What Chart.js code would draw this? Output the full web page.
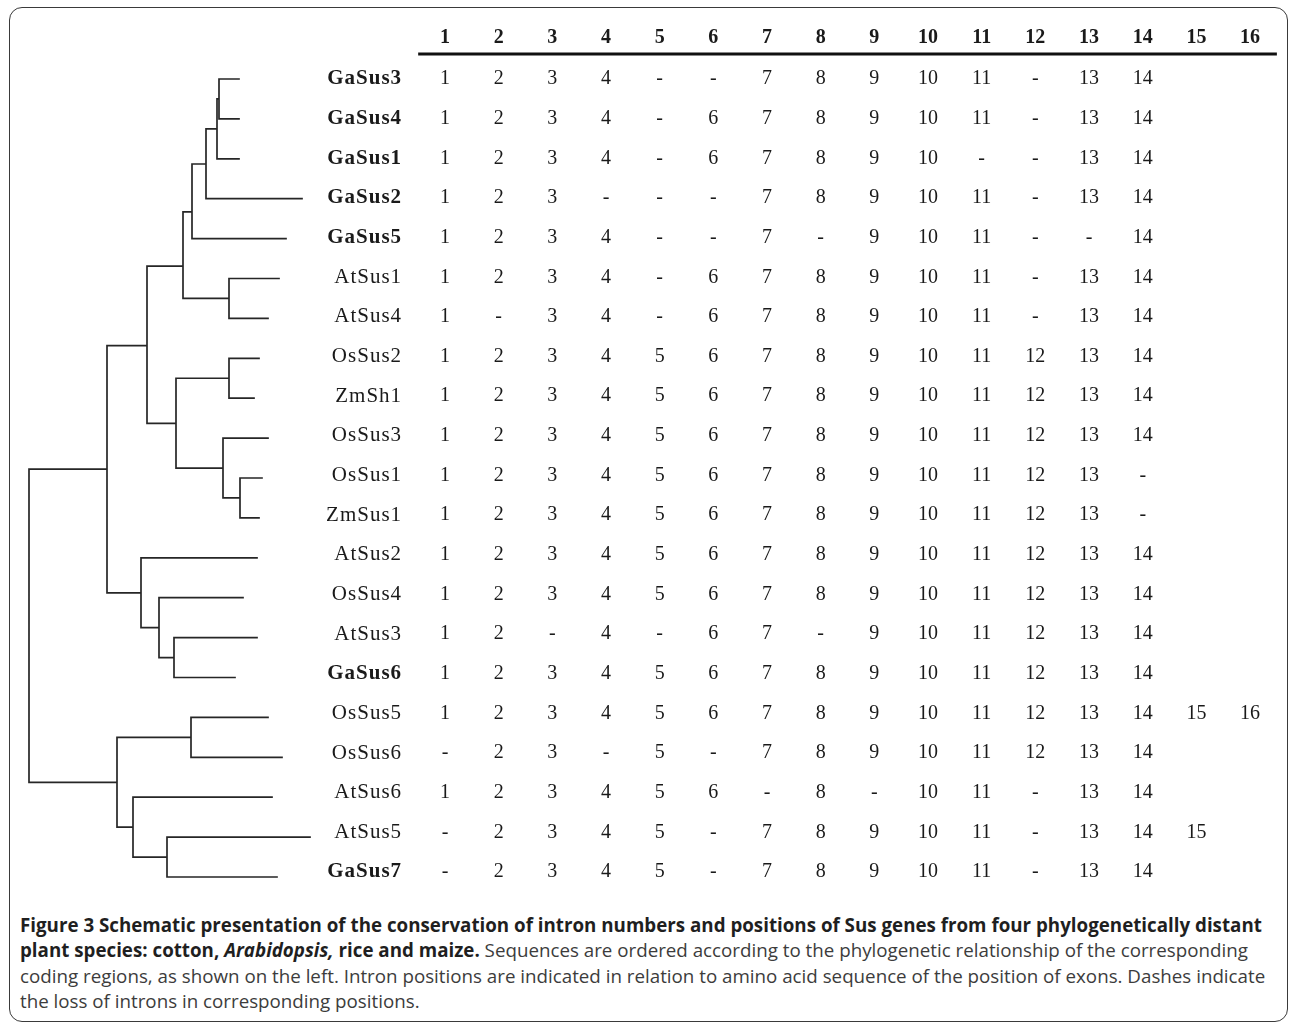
<!DOCTYPE html>
<html>

<head>
    <title>Sus intron conservation</title>
    <script src="https://cdn.jsdelivr.net/npm/chart.js"></script>
    <style>
        body {
            margin: 0;
            background: #fff;
        }

        #frame {
            position: absolute;
            left: 9px;
            top: 7px;
            width: 1277px;
            height: 1013px;
            border: 1.5px solid #3a3a3a;
            border-radius: 13px;
        }

        #treeChart {
            position: absolute;
            left: 0;
            top: 0;
        }

        #caption {
            position: absolute;
            left: 20px;
            top: 912px;
            font-family: "Open Sans", sans-serif;
            font-size: 18.75px;
            line-height: 25.3px;
            color: #3c3c3c;
            white-space: nowrap;
        }

        #caption b {
            color: #1f1f1f;
        }
    </style>
</head>

<body>
    <div id="frame"></div>
    <canvas id="treeChart" width="1290" height="900"></canvas>
    <div id="caption">
        <b>Figure 3 Schematic presentation of the conservation of intron numbers and positions of Sus genes from four phylogenetically distant</b><br>
        <b>plant species: cotton, <i>Arabidopsis,</i> rice and maize.</b> Sequences are ordered according to the phylogenetic relationship of the corresponding<br>
        coding regions, as shown on the left. Intron positions are indicated in relation to amino acid sequence of the position of exons. Dashes indicate<br>
        the loss of introns in corresponding positions.
    </div>

    <script>
        // ------------- Data -------------
        const genes = ['GaSus3', 'GaSus4', 'GaSus1', 'GaSus2', 'GaSus5', 'AtSus1', 'AtSus4',
            'OsSus2', 'ZmSh1', 'OsSus3', 'OsSus1', 'ZmSus1', 'AtSus2', 'OsSus4', 'AtSus3',
            'GaSus6', 'OsSus5', 'OsSus6', 'AtSus6', 'AtSus5', 'GaSus7'];

        const columns = [1, 2, 3, 4, 5, 6, 7, 8, 9, 10, 11, 12, 13, 14, 15, 16];

        // intron present at position -> number, lost -> '-'
        const introns = [
            '1 2 3 4 - - 7 8 9 10 11 - 13 14',
            '1 2 3 4 - 6 7 8 9 10 11 - 13 14',
            '1 2 3 4 - 6 7 8 9 10 - - 13 14',
            '1 2 3 - - - 7 8 9 10 11 - 13 14',
            '1 2 3 4 - - 7 - 9 10 11 - - 14',
            '1 2 3 4 - 6 7 8 9 10 11 - 13 14',
            '1 - 3 4 - 6 7 8 9 10 11 - 13 14',
            '1 2 3 4 5 6 7 8 9 10 11 12 13 14',
            '1 2 3 4 5 6 7 8 9 10 11 12 13 14',
            '1 2 3 4 5 6 7 8 9 10 11 12 13 14',
            '1 2 3 4 5 6 7 8 9 10 11 12 13 -',
            '1 2 3 4 5 6 7 8 9 10 11 12 13 -',
            '1 2 3 4 5 6 7 8 9 10 11 12 13 14',
            '1 2 3 4 5 6 7 8 9 10 11 12 13 14',
            '1 2 - 4 - 6 7 - 9 10 11 12 13 14',
            '1 2 3 4 5 6 7 8 9 10 11 12 13 14',
            '1 2 3 4 5 6 7 8 9 10 11 12 13 14 15 16',
            '- 2 3 - 5 - 7 8 9 10 11 12 13 14',
            '1 2 3 4 5 6 - 8 - 10 11 - 13 14',
            '- 2 3 4 5 - 7 8 9 10 11 - 13 14 15',
            '- 2 3 4 5 - 7 8 9 10 11 - 13 14'
        ];

        // tree clades: name, parent, depth (distance from root), row position
        const clades = [
            ['root', null, 0.00, 13.70],
            ['G', 'root', 0.78, 9.78],
            ['H', 'root', 0.88, 17.63],
            ['I', 'G', 1.18, 6.68],
            ['J', 'G', 1.12, 12.88],
            ['F', 'I', 1.54, 4.69],
            ['N', 'I', 1.47, 8.63],
            ['D', 'F', 1.63, 3.33],
            ['E', 'F', 2.00, 5.50],
            ['C', 'D', 1.77, 2.13],
            ['B', 'C', 1.88, 1.25],
            ['A', 'B', 1.90, 0.50],
            ['K', 'N', 2.00, 7.50],
            ['M', 'N', 1.94, 9.75],
            ['L', 'M', 2.11, 10.50],
            ['P', 'J', 1.30, 13.75],
            ['O', 'P', 1.45, 14.50],
            ['Q', 'H', 1.62, 16.50],
            ['S', 'H', 1.04, 18.75],
            ['R', 'S', 1.38, 19.50]
        ];

        // leaf (gene) attachment and tip depth, same order as genes
        const leafParent = ['A', 'A', 'B', 'C', 'D', 'E', 'E', 'K', 'K', 'M', 'L', 'L',
            'J', 'P', 'O', 'O', 'Q', 'Q', 'S', 'R', 'R'];
        const leafDepth = [2.10, 2.10, 2.10, 2.73, 2.57, 2.50, 2.39, 2.30, 2.25, 2.39, 2.33,
            2.30, 2.28, 2.14, 2.28, 2.06, 2.39, 2.53, 2.43, 2.81, 2.48];

        // ------------- Layout -------------
        const W = 1290, H = 900;
        const col1Px = 445, colPitch = 53.67;     // table columns
        const row0Px = 79, rowPitch = 39.65;      // table rows
        const treeRow0Px = 79, treeRowPitch = 39.9;
        const treeRootPx = 29, treeUnitPx = 100;
        const labelCol = 0.2, headerRow = -1.04, ruleRow = -0.63;

        const serif = '"Liberation Serif", "Times New Roman", serif';

        // ------------- Build datasets -------------
        const nodeByName = {};
        clades.forEach(c => nodeByName[c[0]] = { depth: c[2], row: c[3] });

        const branches = [];
        clades.forEach(c => {
            if (!c[1]) return;
            const p = nodeByName[c[1]];
            branches.push({ x: p.depth, y: p.row }, { x: p.depth, y: c[3] }, { x: c[2], y: c[3] }, { x: null, y: null });
        });
        genes.forEach((g, i) => {
            const p = nodeByName[leafParent[i]];
            branches.push({ x: p.depth, y: p.row }, { x: p.depth, y: i }, { x: leafDepth[i], y: i }, { x: null, y: null });
        });

        const cells = [];
        introns.forEach((line, i) => {
            line.split(' ').forEach((v, j) => cells.push({ x: columns[j], y: i, t: v }));
        });
        const labels = genes.map((g, i) => ({ x: labelCol, y: i, t: g }));
        const header = columns.map(c => ({ x: c, y: headerRow, t: String(c) }));

        // ------------- Text plugin -------------
        const textPlugin = {
            id: 'cellText',
            afterDatasetsDraw(chart) {
                const ctx = chart.ctx;
                const xs = chart.scales.x, ys = chart.scales.y;

                // header rule
                ctx.save();
                ctx.strokeStyle = '#111';
                ctx.lineWidth = 3;
                ctx.beginPath();
                ctx.moveTo(xs.getPixelForValue(0.5), ys.getPixelForValue(ruleRow));
                ctx.lineTo(xs.getPixelForValue(16.5), ys.getPixelForValue(ruleRow));
                ctx.stroke();

                chart.data.datasets.forEach((ds, di) => {
                    if (!ds.textFont) return;
                    const meta = chart.getDatasetMeta(di);
                    ctx.textAlign = ds.textAlign;
                    ctx.textBaseline = 'middle';
                    ctx.fillStyle = '#1a1a1a';
                    ctx.letterSpacing = ds.letterSpacing || '0px';
                    meta.data.forEach((el, k) => {
                        const item = ds.data[k];
                        ctx.font = ds.textFont(item);
                        ctx.fillText(item.t, el.x, el.y);
                    });
                });
                ctx.restore();
            }
        };

        // ------------- Chart -------------
        const ctx = document.getElementById('treeChart').getContext('2d');
        const chart = new Chart(ctx, {
            type: 'scatter',
            data: {
                datasets: [{
                    label: 'tree',
                    data: branches,
                    xAxisID: 'xTree',
                    yAxisID: 'yTree',
                    showLine: true,
                    spanGaps: false,
                    borderColor: '#262626',
                    borderWidth: 1.7,
                    pointRadius: 0,
                    borderCapStyle: 'square'
                }, {
                    label: 'cells',
                    data: cells,
                    pointRadius: 0,
                    textAlign: 'center',
                    textFont: () => '20px ' + serif
                }, {
                    label: 'genes',
                    data: labels,
                    pointRadius: 0,
                    textAlign: 'right',
                    letterSpacing: '1px',
                    textFont: item => (item.t.startsWith('Ga') ? 'bold ' : '') + '21px ' + serif
                }, {
                    label: 'header',
                    data: header,
                    pointRadius: 0,
                    textAlign: 'center',
                    textFont: () => 'bold 20px ' + serif
                }]
            },
            options: {
                responsive: false,
                animation: false,
                layout: { padding: 0 },
                plugins: {
                    legend: { display: false },
                    tooltip: { enabled: false }
                },
                scales: {
                    x: {
                        type: 'linear', display: false,
                        min: 1 - col1Px / colPitch,
                        max: 1 - col1Px / colPitch + W / colPitch
                    },
                    y: {
                        type: 'linear', display: false, reverse: true,
                        min: -row0Px / rowPitch,
                        max: -row0Px / rowPitch + H / rowPitch
                    },
                    xTree: {
                        type: 'linear', display: false,
                        min: -treeRootPx / treeUnitPx,
                        max: -treeRootPx / treeUnitPx + W / treeUnitPx
                    },
                    yTree: {
                        type: 'linear', display: false, reverse: true,
                        min: -treeRow0Px / treeRowPitch,
                        max: -treeRow0Px / treeRowPitch + H / treeRowPitch
                    }
                }
            },
            plugins: [textPlugin]
        });
    </script>
</body>

</html>
